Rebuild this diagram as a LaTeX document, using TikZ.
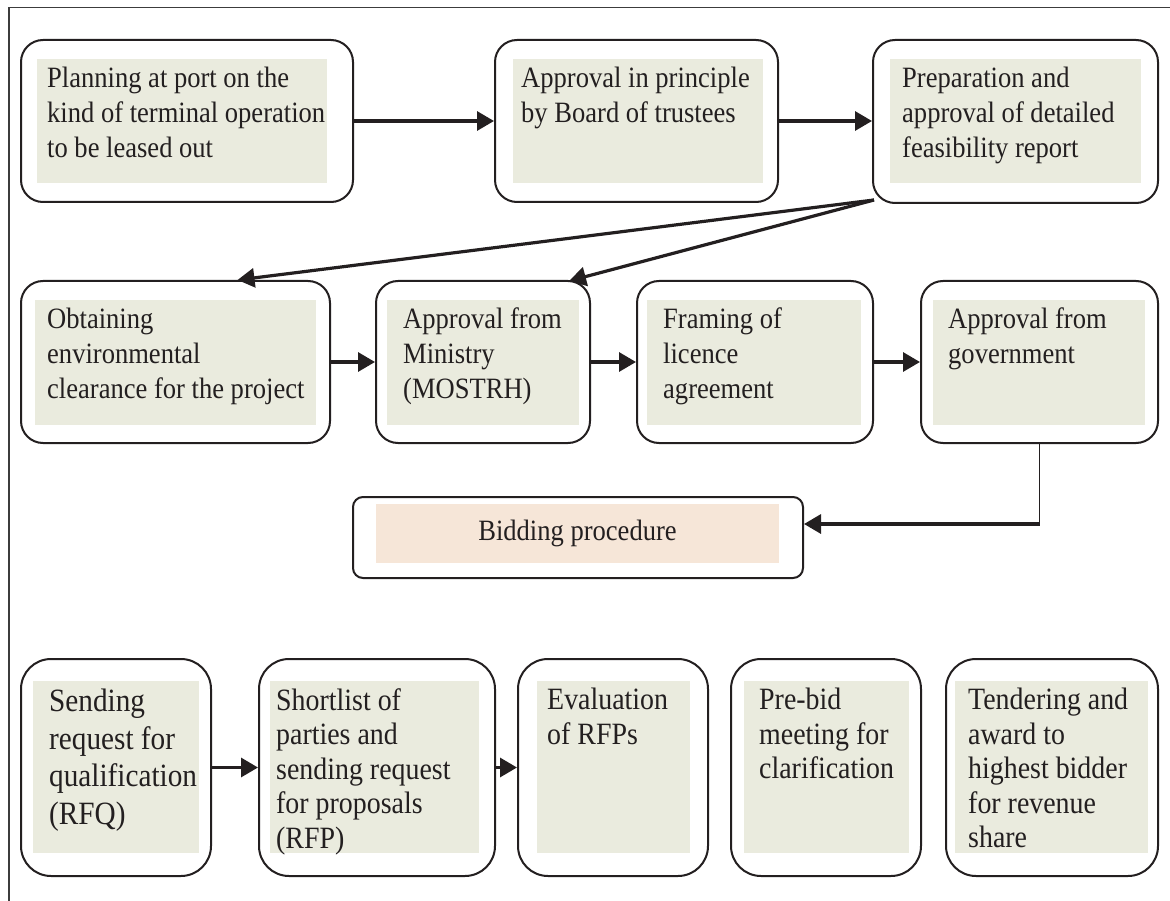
\documentclass[tikz,border=0pt]{standalone}
\usepackage{fontspec}
\setmainfont{Liberation Serif}[FakeStretch=0.9]
\usetikzlibrary{arrows.meta,calc}
\definecolor{inkc}{RGB}{35,31,32}
\definecolor{greenfill}{RGB}{234,235,222}
\definecolor{peachfill}{RGB}{246,230,216}
\definecolor{framec}{RGB}{60,60,60}
\tikzset{
  obox/.style={draw=inkc, line width=2pt, fill=white, rounded corners=22pt, inner sep=0pt},
  tallbox/.style={obox, rounded corners=30pt},
  bidbox/.style={obox, rounded corners=10pt},
  txt/.style={anchor=north west, align=left, inner sep=0pt, text=inkc, font=\fontsize{29.5}{35}\selectfont},
  txtL/.style={txt, font=\fontsize{31}{34.5}\selectfont},
  txtH/.style={txt, font=\fontsize{32.5}{37.5}\selectfont},
  arr/.style={draw=inkc, line width=3.2pt, -{Triangle[length=17pt,width=19pt]}},
  thinline/.style={draw=inkc, line width=1.5pt}
}
\begin{document}
\begin{tikzpicture}[x=1pt,y=-1pt]
\useasboundingbox (0,0) rectangle (1170,901);
% frame
\draw[framec, line width=1.3pt] (1170,7.5) -- (9,7.5) -- (9,901);

% outer boxes
\node[obox, minimum width=332pt, minimum height=162pt] (A) at (187,121) {};
\node[obox, minimum width=283pt, minimum height=162pt] (B) at (636.5,121) {};
\node[obox, minimum width=285pt, minimum height=163pt] (C) at (1015.5,121.5) {};
\node[obox, minimum width=309pt, minimum height=162pt] (D) at (175.5,362) {};
\node[obox, minimum width=214pt, minimum height=162pt] (E) at (483,362) {};
\node[obox, minimum width=236pt, minimum height=162pt] (F) at (755,362) {};
\node[obox, minimum width=237pt, minimum height=162pt] (G) at (1039.5,362) {};
\node[bidbox, minimum width=450pt, minimum height=81pt] (Bid) at (578,537.5) {};
\node[tallbox, minimum width=190pt, minimum height=217pt] (H) at (116,767.5) {};
\node[tallbox, minimum width=236pt, minimum height=217pt] (I) at (377,767.5) {};
\node[tallbox, minimum width=190pt, minimum height=217pt] (J) at (613,767.5) {};
\node[tallbox, minimum width=190pt, minimum height=217pt] (K) at (826,767.5) {};
\node[tallbox, minimum width=212pt, minimum height=217pt] (L) at (1052,767.5) {};

% inner fills
\fill[greenfill] (37,59) rectangle (327,183);
\fill[greenfill] (513,59) rectangle (763,183);
\fill[greenfill] (890,59) rectangle (1141,183);
\fill[greenfill] (35,300) rectangle (316,425);
\fill[greenfill] (387,300) rectangle (579,425);
\fill[greenfill] (647,300) rectangle (861,425);
\fill[greenfill] (933,300) rectangle (1145,425);
\fill[peachfill] (376,504) rectangle (779,563);
\fill[greenfill] (33,681) rectangle (199,853);
\fill[greenfill] (270,681) rectangle (479,853);
\fill[greenfill] (537,681) rectangle (690,853);
\fill[greenfill] (744,681) rectangle (909,853);
\fill[greenfill] (955,681) rectangle (1148,853);

% texts
\node[txt] (tA) at (47,67) {Planning at port on the\\kind of terminal operation\\to be leased out};
\node[txt] (tB) at (521,67) {Approval in principle\\by Board of trustees};
\node[txt] (tC) at (902,67) {Preparation and\\approval of detailed\\feasibility report};
\node[txt] (tD) at (47,308) {Obtaining\\environmental\\clearance for the project};
\node[txt] (tE) at (403,308) {Approval from\\Ministry\\(MOSTRH)};
\node[txt] (tF) at (663,308) {Framing of\\licence\\agreement};
\node[txt] (tG) at (948,308) {Approval from\\government};
\node[inner sep=0pt, text=inkc, font=\fontsize{29.5}{35}\selectfont] (tBid) at (577.5,533.5) {Bidding procedure};
\node[txtH] (tH) at (49,689) {Sending\\request for\\qualification\\(RFQ)};
\node[txtL] (tI) at (276,688) {Shortlist of\\parties and\\sending request\\for proposals\\(RFP)};
\node[txtL] (tJ) at (547,688) {Evaluation\\of RFPs};
\node[txtL] (tK) at (759,688) {Pre-bid\\meeting for\\clarification};
\node[txtL] (tL) at (968,688) {Tendering and\\award to\\highest bidder\\for revenue\\share};

% connectors
\draw[arr] (A.east) -- (A.east -| B.west);
\draw[arr] (B.east) -- (B.east -| C.west);
\coordinate (cs) at ($(C.south west)+(2,-4)$);
\draw[arr] (cs) -- ($(D.north)+(62,0)$);
\draw[arr] (cs) -- ($(E.north)+(86,1)$);
\draw[arr] (D.east) -- (D.east -| E.west);
\draw[arr] (E.east) -- (E.east -| F.west);
\draw[arr] (F.east) -- (F.east -| G.west);
\coordinate (bend) at (1039.5,524);
\draw[thinline] (G.south) -- (bend);
\draw[arr] (bend) -- (bend -| Bid.east);
\draw[arr] (H.east) -- (H.east -| I.west);
\draw[arr] (I.east) -- (I.east -| J.west);
\end{tikzpicture}
\end{document}
